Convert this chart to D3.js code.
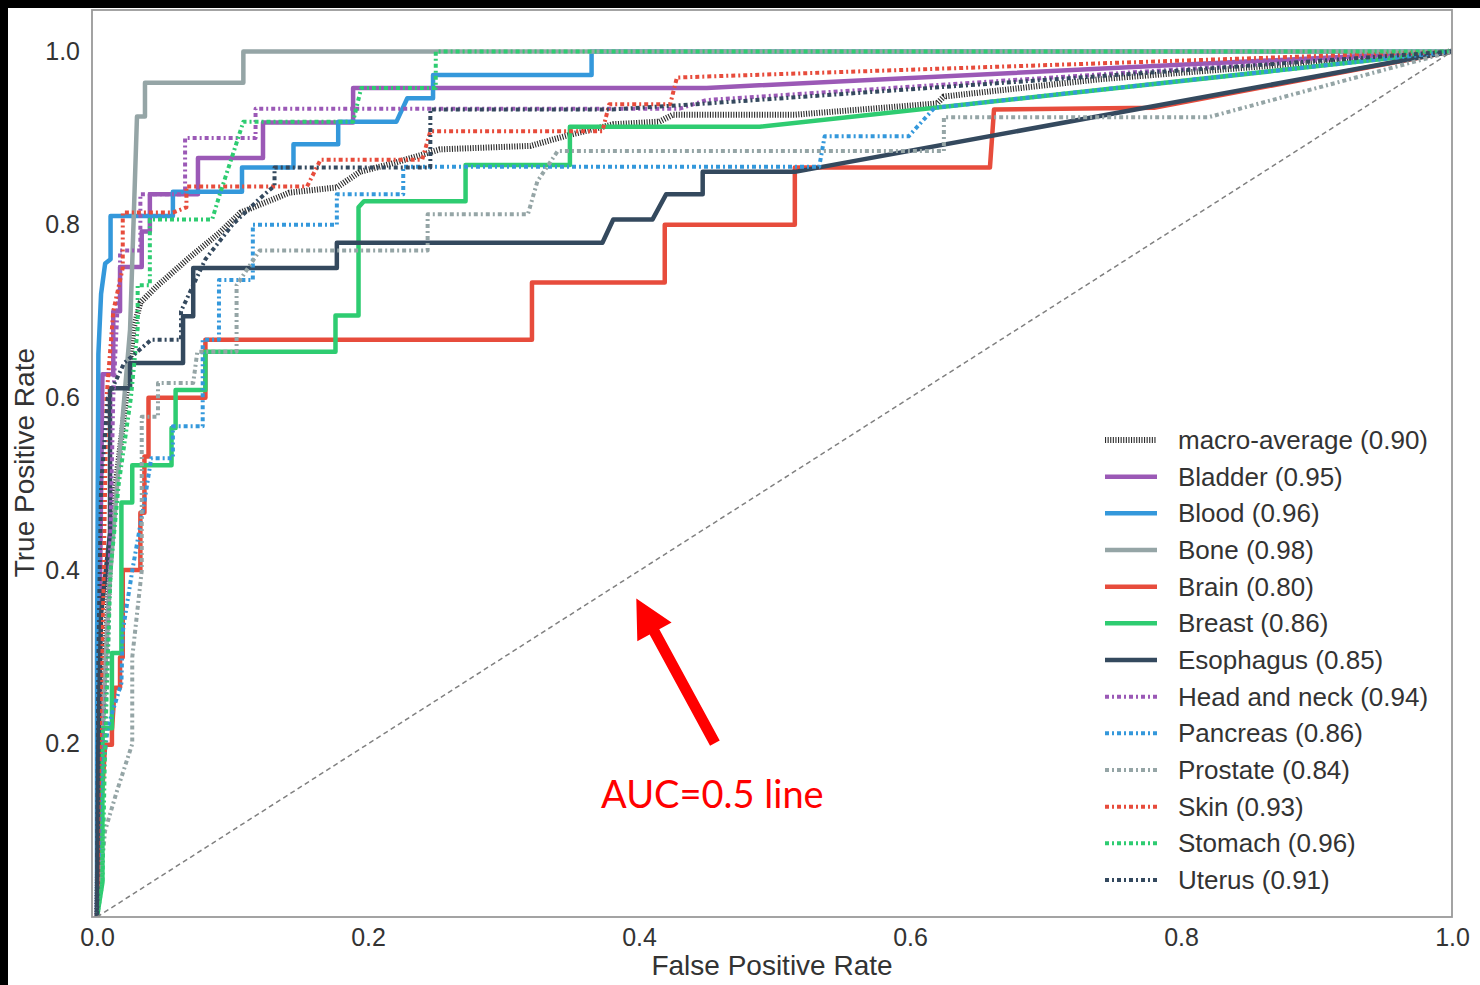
<!DOCTYPE html>
<html>
<head>
<meta charset="utf-8">
<script src="https://cdn.jsdelivr.net/npm/d3@7"></script>
<style>
body{margin:0;background:#000;}
svg{display:block;}
text{font-family:"Liberation Sans",Arial,sans-serif;fill:#333;}
</style>
</head>
<body>
<div id="canvas"></div>
<script>
// ROC curves, one array of [fpr, tpr] per class
var macroAvg = [[0,0],[0.002,0.15],[0.006,0.3],[0.01,0.42],[0.013,0.49],[0.02,0.58],[0.027,0.68],[0.032,0.71],[0.045,0.73],[0.069,0.763],[0.09,0.79],[0.106,0.814],[0.142,0.837],[0.177,0.843],[0.194,0.861],[0.221,0.872],[0.253,0.887],[0.32,0.891],[0.347,0.903],[0.381,0.916],[0.415,0.919],[0.425,0.927],[0.515,0.927],[0.62,0.94],[0.625,0.948],[0.74,0.968],[1,1]];
var bladder = [[0,0],[0.002,0.35],[0.004,0.627],[0.012,0.627],[0.012,0.70],[0.017,0.70],[0.017,0.751],[0.033,0.751],[0.033,0.792],[0.039,0.792],[0.039,0.835],[0.0745,0.835],[0.0745,0.877],[0.1225,0.877],[0.1225,0.918],[0.189,0.918],[0.189,0.958],[0.45,0.958],[1,1]];
var blood = [[0,0],[0,0.3],[0.001,0.65],[0.003,0.72],[0.006,0.755],[0.01,0.76],[0.01,0.81],[0.056,0.81],[0.056,0.838],[0.107,0.838],[0.107,0.866],[0.145,0.866],[0.145,0.893],[0.178,0.893],[0.178,0.919],[0.221,0.919],[0.229,0.946],[0.248,0.946],[0.248,0.973],[0.365,0.973],[0.365,1],[1,1]];
var bone = [[0,0],[0.002,0.1],[0.005,0.25],[0.009,0.38],[0.012,0.444],[0.018,0.56],[0.0244,0.679],[0.0295,0.925],[0.0354,0.925],[0.0354,0.964],[0.108,0.964],[0.108,1],[1,1]];
var brain = [[0,0],[0.002,0.1],[0.006,0.199],[0.011,0.199],[0.011,0.214],[0.013,0.265],[0.017,0.265],[0.017,0.30],[0.019,0.30],[0.019,0.401],[0.032,0.401],[0.032,0.467],[0.035,0.467],[0.035,0.532],[0.038,0.532],[0.038,0.60],[0.08,0.60],[0.08,0.667],[0.321,0.667],[0.321,0.733],[0.419,0.733],[0.419,0.80],[0.515,0.80],[0.515,0.866],[0.659,0.866],[0.662,0.933],[0.78,0.935],[1,1]];
var breast = [[0,0],[0.004,0.04],[0.004,0.218],[0.011,0.218],[0.011,0.305],[0.018,0.305],[0.018,0.479],[0.026,0.479],[0.026,0.522],[0.055,0.522],[0.055,0.565],[0.058,0.565],[0.058,0.609],[0.08,0.609],[0.08,0.653],[0.176,0.653],[0.176,0.695],[0.193,0.695],[0.193,0.82],[0.197,0.827],[0.272,0.827],[0.272,0.869],[0.349,0.869],[0.349,0.913],[0.489,0.913],[1,1]];
var esophagus = [[0,0],[0.001,0.2],[0.003,0.35],[0.0096,0.444],[0.0096,0.611],[0.0244,0.611],[0.0244,0.64],[0.0635,0.64],[0.0635,0.694],[0.071,0.694],[0.071,0.75],[0.177,0.75],[0.177,0.779],[0.373,0.779],[0.381,0.806],[0.41,0.806],[0.42,0.835],[0.447,0.835],[0.447,0.861],[0.515,0.861],[1,1]];
var headNeck = [[0,0],[0.002,0.1],[0.005,0.2],[0.008,0.3],[0.01,0.45],[0.012,0.6],[0.015,0.7],[0.017,0.74],[0.017,0.77],[0.032,0.77],[0.032,0.835],[0.065,0.835],[0.065,0.9],[0.117,0.9],[0.117,0.934],[0.43,0.934],[0.45,0.944],[1,1]];
var pancreas = [[0,0],[0.003,0.15],[0.008,0.22],[0.018,0.27],[0.019,0.33],[0.026,0.4],[0.035,0.48],[0.04,0.53],[0.056,0.53],[0.056,0.567],[0.078,0.567],[0.078,0.667],[0.09,0.667],[0.09,0.736],[0.115,0.736],[0.115,0.80],[0.177,0.80],[0.177,0.835],[0.226,0.835],[0.226,0.867],[0.533,0.867],[0.537,0.902],[0.599,0.902],[0.618,0.935],[1,1]];
var prostate = [[0,0],[0.006,0.1],[0.015,0.147],[0.026,0.2],[0.026,0.3],[0.033,0.4],[0.033,0.578],[0.045,0.578],[0.045,0.617],[0.071,0.617],[0.074,0.653],[0.103,0.653],[0.103,0.73],[0.12,0.77],[0.244,0.77],[0.244,0.812],[0.318,0.812],[0.325,0.85],[0.34,0.885],[0.625,0.885],[0.625,0.924],[0.82,0.924],[1,1]];
var skin = [[0,0],[0.002,0.2],[0.005,0.4],[0.007,0.6],[0.012,0.7],[0.019,0.75],[0.019,0.814],[0.056,0.814],[0.066,0.82],[0.066,0.844],[0.155,0.844],[0.165,0.875],[0.24,0.875],[0.246,0.908],[0.373,0.908],[0.378,0.939],[0.423,0.939],[0.428,0.97],[1,1]];
var stomach = [[0,0],[0.004,0.04],[0.006,0.2],[0.01,0.4],[0.016,0.5],[0.025,0.6],[0.03,0.68],[0.03,0.73],[0.039,0.73],[0.039,0.806],[0.085,0.806],[0.09,0.832],[0.1,0.88],[0.108,0.919],[0.189,0.919],[0.195,0.958],[0.25,0.958],[0.25,1],[1,1]];
var uterus = [[0,0],[0.001,0.3],[0.003,0.5],[0.008,0.6],[0.02,0.64],[0.04,0.667],[0.062,0.667],[0.062,0.70],[0.08,0.76],[0.1,0.80],[0.12,0.83],[0.131,0.845],[0.131,0.866],[0.246,0.866],[0.246,0.933],[0.38,0.933],[0.45,0.94],[1,1]];

var classNames = ['Bladder','Blood','Bone','Brain','Breast','Esophagus','Head and neck','Pancreas','Prostate','Skin','Stomach','Uterus'];
var aucValues = [0.95,0.96,0.98,0.80,0.86,0.85,0.94,0.86,0.84,0.93,0.96,0.91];
var macroAuc = 0.90;
var xTicks = [0,0.2,0.4,0.6,0.8,1.0];
var yTicks = [0.2,0.4,0.6,0.8,1.0];

// annotation, in data units
var arrowTip = [0.398,0.368], arrowTail = [0.456,0.201];
var noteAt = [0.372,0.126], noteText = 'AUC=0.5 line';

var curves = [bladder,blood,bone,brain,breast,esophagus,headNeck,pancreas,prostate,skin,stomach,uterus];
var palette = ['#9b59b6','#3498db','#95a5a6','#e74c3c','#2ecc71','#34495e'];

var W = 1480, H = 985;
var margin = {t:10,r:28,b:68,l:92};
var width = W - margin.l - margin.r,
    height = H - margin.t - margin.b;

var svg = d3.select('#canvas').append('svg')
    .attr('width',W)
    .attr('height',H);

svg.append('rect').attr('width',W).attr('height',H).style('fill','#000');
svg.append('rect').attr('x',8).attr('y',8).attr('width',W-8).attr('height',H-8).style('fill','#fff');

var plot = svg.append('g')
    .attr('transform','translate('+margin.l+','+margin.t+')');

var x = d3.scaleLinear().domain([-0.0037,1]).range([0,width]);
var y = d3.scaleLinear().domain([0,1.048]).range([height,0]);

plot.append('clipPath').attr('id','clip')
    .append('rect').attr('width',width).attr('height',height);

var line = d3.line().x(function(d){return x(d[0]);}).y(function(d){return y(d[1]);});

function styleFor(i){
    if(i < 0) return {color:'#2b2b2b', w:6, dash:'1.1,1.5'};
    return {color:palette[i%6], w: i<6 ? 4.5 : 4, dash: i<6 ? null : '4,3,2,3'};
}

var lines = plot.append('g').attr('clip-path','url(#clip)');

function drawCurve(pts, st){
    lines.append('path')
        .attr('d',line(pts))
        .style('fill','none')
        .style('stroke',st.color)
        .style('stroke-width',st.w+'px')
        .style('stroke-dasharray',st.dash)
        .style('stroke-linejoin','round');
}

drawCurve(macroAvg, styleFor(-1));
curves.forEach(function(c,i){ drawCurve(c, styleFor(i)); });

// chance line
lines.append('line')
    .attr('x1',x(0)).attr('y1',y(0))
    .attr('x2',x(1)).attr('y2',y(1))
    .style('stroke','#808080')
    .style('stroke-width','1.5px')
    .style('stroke-dasharray','5,3.5');

// frame
plot.append('rect')
    .attr('width',width).attr('height',height)
    .style('fill','none')
    .style('stroke','#999')
    .style('stroke-width','1.8px');

// axes
var xAxis = plot.append('g')
    .attr('transform','translate(0,'+height+')')
    .call(d3.axisBottom(x).tickValues(xTicks).tickFormat(d3.format('.1f')).tickSize(0).tickPadding(11));
var yAxis = plot.append('g')
    .call(d3.axisLeft(y).tickValues(yTicks).tickFormat(d3.format('.1f')).tickSize(0).tickPadding(12));
[xAxis,yAxis].forEach(function(a){
    a.select('.domain').remove();
    a.selectAll('text').style('font-size','25px').style('fill','#333')
        .style('font-family','"Liberation Sans",Arial,sans-serif');
});

plot.append('text')
    .attr('x',width/2).attr('y',height+58)
    .attr('text-anchor','middle')
    .style('font-size','28px')
    .text('False Positive Rate');

plot.append('text')
    .attr('transform','translate('+(-58)+','+(y(0.525))+') rotate(-90)')
    .attr('text-anchor','middle')
    .style('font-size','28px')
    .text('True Positive Rate');

// legend
var legendItems = [{name:'macro-average', auc:macroAuc, i:-1}];
classNames.forEach(function(n,i){ legendItems.push({name:n, auc:aucValues[i], i:i}); });

var legend = plot.append('g').attr('transform','translate('+(1105-margin.l)+','+(440-margin.t)+')');
legendItems.forEach(function(d,k){
    var st = styleFor(d.i);
    var row = legend.append('g').attr('transform','translate(0,'+(k*36.67)+')');
    row.append('line')
        .attr('x1',0).attr('x2',52)
        .style('stroke',st.color)
        .style('stroke-width',st.w+'px')
        .style('stroke-dasharray',st.dash);
    row.append('text')
        .attr('x',73).attr('y',9)
        .style('font-size','26px')
        .text(d.name+' ('+d.auc.toFixed(2)+')');
});

// annotation arrow
var T = [x(arrowTip[0]),y(arrowTip[1])], S = [x(arrowTail[0]),y(arrowTail[1])];
var len = Math.hypot(T[0]-S[0],T[1]-S[1]);
var u = [(T[0]-S[0])/len,(T[1]-S[1])/len], n = [-u[1],u[0]];
var headLen = 38, headHalf = 19.5, shaftHalf = 5.5;
var B = [T[0]-u[0]*headLen, T[1]-u[1]*headLen];
function p(base,k){ return [base[0]+n[0]*k, base[1]+n[1]*k]; }
var arrowPts = [p(S,shaftHalf),p(B,shaftHalf),p(B,headHalf),T,p(B,-headHalf),p(B,-shaftHalf),p(S,-shaftHalf)];
plot.append('path')
    .attr('d',d3.line()(arrowPts)+'Z')
    .style('fill','#ff0000');

plot.append('text')
    .attr('x',x(noteAt[0])).attr('y',y(noteAt[1]))
    .style('font-family','Lato,"Open Sans",sans-serif')
    .style('font-size','38px')
    .style('fill','#ff0000')
    .text(noteText);
</script>
</body>
</html>
